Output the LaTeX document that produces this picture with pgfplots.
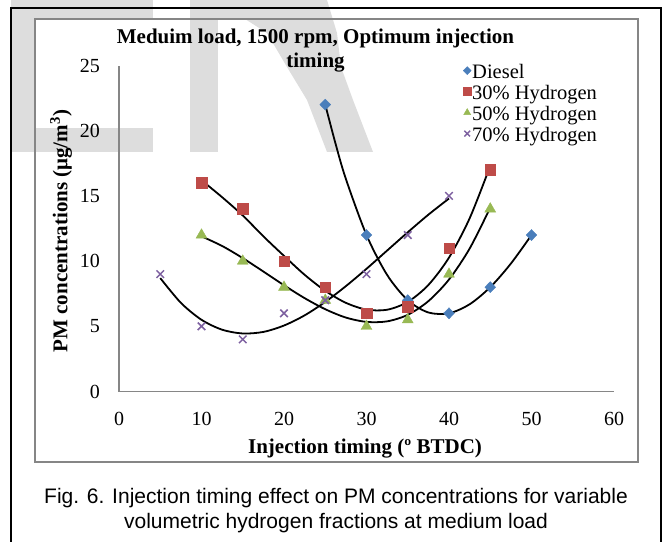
\documentclass[border=0pt]{standalone}
\usepackage{fontspec}
\setmainfont{Liberation Serif}
\newfontfamily\capfont{Liberation Sans}
\usepackage{pgfplots}
\pgfplotsset{compat=1.18}

\definecolor{dieselc}{HTML}{4A7EBB}
\definecolor{hthirty}{HTML}{BE4B48}
\definecolor{hfifty}{HTML}{98B954}
\definecolor{hseventy}{HTML}{7D60A0}
\definecolor{axisgray}{HTML}{868686}
\definecolor{wmark}{HTML}{DDDDDD}

\begin{document}
\begin{tikzpicture}[x=1bp,y=1bp]
\path[use as bounding box] (0,0) rectangle (665,-542);

% watermark letters behind the chart
\fill[wmark] (11,0) rectangle (35,-152);
\fill[wmark] (11,0) rectangle (153,-19);
\fill[wmark] (11,-128) rectangle (153,-152);
\fill[wmark] (190,0) rectangle (218,-152);
\fill[wmark] (218,0) -- (327,0) -- (337,-33) -- (341,-67) -- (353,-100) -- (373,-152)
  -- (327,-152) -- (307,-100) -- (287,-67) -- (267,-33) -- (245,-19) -- (218,-18) -- cycle;

% frames
\draw[black, line width=2bp] (11,-542) -- (11,-8) -- (661,-8) -- (661,-542);
\draw[axisgray, line width=1.3bp] (35,-19) rectangle (638,-462);

\begin{axis}[
    at={(119bp,-391.5bp)}, anchor=south west,
    scale only axis, width=495bp, height=326bp,
    xmin=0, xmax=60, ymin=0, ymax=25,
    xtick={0,10,...,60}, ytick={0,5,...,25},
    major tick length=0pt,
    axis x line*=bottom, axis y line*=left,
    axis line style={axisgray, line width=1.4bp, -},
    /pgf/number format/assume math mode=true,
    tick label style={font=\fontsize{20bp}{24bp}\selectfont, inner sep=0pt},
    yticklabel style={anchor=east, xshift=-19bp},
    xticklabel style={anchor=north, yshift=-20.5bp},
    title={Meduim load, 1500 rpm, Optimum injection\\timing},
    title style={at={(axis description cs:0.397,1.094)}, anchor=north, align=center,
                 inner sep=0pt, font=\bfseries\fontsize{21bp}{24bp}\selectfont},
    xlabel={Injection timing (º BTDC)},
    xlabel style={at={(axis description cs:0.497,-0.1887)}, anchor=base, inner sep=0pt,
                  font=\bfseries\fontsize{21bp}{25bp}\selectfont},
    ylabel={PM concentrations (μg/m\textsuperscript{3})},
    ylabel style={at={(axis description cs:-0.1172,0.492)}, anchor=center, inner sep=0pt,
                  font=\bfseries\fontsize{21bp}{25bp}\selectfont},
    legend style={at={(axis description cs:0.695,1.008)}, anchor=north west,
                  draw=none, fill=none, inner sep=0pt,
                  nodes={inner sep=1bp, text height=14bp, text depth=5bp},
                  font=\fontsize{20.5bp}{24bp}\selectfont},
    legend cell align={left},
    legend image code/.code={\draw[mark repeat=2,mark phase=2,#1,mark size=4bp]
        plot coordinates {(0bp,3bp)(5bp,3bp)(13bp,3bp)};},
]
% measured points
\addplot[only marks, mark=diamond*, mark size=5.5bp,
         mark options={draw=dieselc, fill=dieselc, xscale=1.3}]
  coordinates {(25,22) (30,12) (35,7) (40,6) (45,8) (50,12)};
\addplot[only marks, mark=square*, mark size=5.3bp,
         mark options={draw=hthirty, fill=hthirty}]
  coordinates {(10,16) (15,14) (20,10) (25,8) (30,6) (35,6.5) (40,11) (45,17)};
\addplot[only marks, mark=triangle*, mark size=6.3bp,
         mark options={draw=hfifty, fill=hfifty}]
  coordinates {(10,12) (15,10) (20,8) (25,7) (30,5) (35,5.5) (40,9) (45,14)};
\addplot[only marks, mark=x, mark size=5.3bp,
         mark options={draw=hseventy, line width=1.5bp}]
  coordinates {(5,9) (10,5) (15,4) (20,6) (25,7) (30,9) (35,12) (40,15)};
\legend{Diesel, 30\% Hydrogen, 50\% Hydrogen, 70\% Hydrogen}

% trendlines
\addplot[forget plot, black, line width=1.8bp, smooth] coordinates {
  (25,22.0) (26.25,19.0) (27.5,16.3) (30,12.0) (32.5,8.94) (35,7.0) (37.5,6.06)
  (40,6.0) (42.5,6.69) (45,8.0) (47.5,9.81) (50,12.0)};
\addplot[forget plot, black, line width=1.8bp, smooth] coordinates {
  (10,16.2) (12.5,14.9) (15,13.5) (17.5,11.9) (20,10.4) (22.5,8.95) (25,7.72)
  (27.5,6.8) (30,6.28) (32.5,6.27) (35,6.87) (37.5,8.17) (40,10.27) (42.5,13.28) (45,17.3)};
\addplot[forget plot, black, line width=1.8bp, smooth] coordinates {
  (10,11.9) (12.5,11.16) (15,10.23) (17.5,9.2) (20,8.15) (22.5,7.16) (25,6.31)
  (27.5,5.67) (30,5.34) (32.5,5.38) (35,5.88) (37.5,6.93) (40,8.59) (42.5,10.96) (45,14.1)};
\addplot[forget plot, black, line width=1.8bp, smooth] coordinates {
  (5,8.7) (7.5,6.8) (10,5.5) (12.5,4.74) (15,4.45) (17.5,4.57) (20,5.06)
  (22.5,5.84) (25,6.87) (27.5,8.08) (30,9.41) (32.5,10.81) (35,12.21) (37.5,13.56) (40,14.8)};
\end{axis}

% caption
\node[font=\capfont\fontsize{21bp}{25bp}\selectfont, anchor=base, inner sep=0pt]
  at (336,-503) {Fig. 6. Injection timing effect on PM concentrations for variable};
\node[font=\capfont\fontsize{21bp}{25bp}\selectfont, anchor=base, inner sep=0pt]
  at (336,-528) {volumetric hydrogen fractions at medium load};
\end{tikzpicture}
\end{document}
